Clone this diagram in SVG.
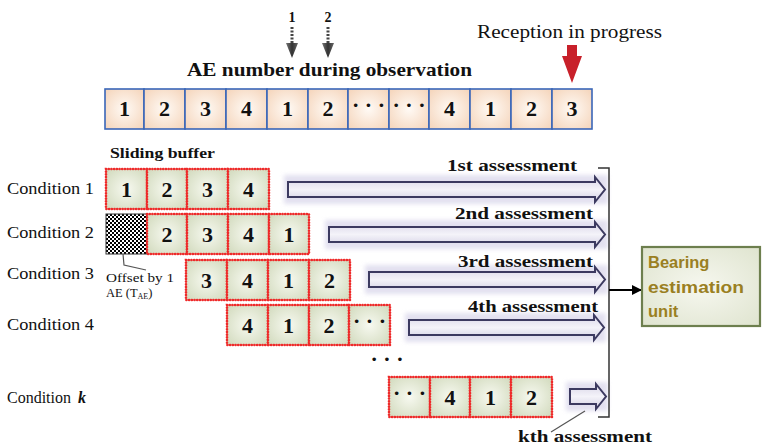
<svg xmlns="http://www.w3.org/2000/svg" width="762" height="446" viewBox="0 0 762 446">
<defs>
<radialGradient id="gPeach" cx="50%" cy="50%" r="65%"><stop offset="0" stop-color="#fffaf5"/><stop offset="1" stop-color="#f5d6bd"/></radialGradient>
<radialGradient id="gGreen" cx="50%" cy="50%" r="65%"><stop offset="0" stop-color="#f7f9f0"/><stop offset="1" stop-color="#d3dbbf"/></radialGradient>
<radialGradient id="gBox" cx="50%" cy="50%" r="70%"><stop offset="0" stop-color="#f6f7ef"/><stop offset="1" stop-color="#dfe4cf"/></radialGradient>
<linearGradient id="gArr" x1="0" y1="0" x2="0" y2="1"><stop offset="0" stop-color="#d9d6e8"/><stop offset="0.5" stop-color="#f4f3f9"/><stop offset="1" stop-color="#d3d0e4"/></linearGradient>
<linearGradient id="gGray" x1="0" y1="0" x2="1" y2="0"><stop offset="0" stop-color="#777"/><stop offset="0.5" stop-color="#333"/><stop offset="1" stop-color="#666"/></linearGradient>
<pattern id="checker" width="4" height="4" patternUnits="userSpaceOnUse"><rect width="4" height="4" fill="#fff"/><rect width="2" height="2" fill="#000"/><rect x="2" y="2" width="2" height="2" fill="#000"/></pattern>
<marker id="mArr" markerWidth="10" markerHeight="10" refX="9" refY="5" orient="auto" markerUnits="userSpaceOnUse"><path d="M0,0 L10,5 L0,10 Z" fill="#000"/></marker>
<filter id="blur" x="-10%" y="-50%" width="120%" height="200%"><feGaussianBlur stdDeviation="2"/></filter>
</defs>
<style>
.ser{font-family:'Liberation Serif','DejaVu Serif','Times New Roman',serif;fill:#111}
.b{font-weight:bold}
.num{font-family:'Liberation Serif','DejaVu Serif','Times New Roman',serif;font-weight:bold;font-size:22px;fill:#111;text-anchor:middle}
.top{fill:url(#gPeach);stroke:#3a66b8;stroke-width:1.6}
.buf{fill:url(#gGreen);stroke:#ee2a2a;stroke-width:2.6;stroke-dasharray:0.1 2.6;stroke-linecap:round}
.ass{fill:url(#gArr);stroke:#3c3a60;stroke-width:2}
.halo{fill:#dcd9ec;opacity:0.8;filter:url(#blur)}
.lab{font-family:'Liberation Serif','DejaVu Serif','Times New Roman',serif;font-size:16px;fill:#111}
.asl{font-family:'Liberation Serif','DejaVu Serif','Times New Roman',serif;font-size:17px;font-weight:bold;fill:#111}
.ln{fill:none;stroke:#555;stroke-width:1.2}
</style>

<g id="top-labels">
<text class="ser b" x="292" y="22" font-size="14" text-anchor="middle">1</text>
<text class="ser b" x="328" y="22" font-size="14" text-anchor="middle">2</text>
<text class="ser b" x="187" y="76" font-size="19" textLength="285" lengthAdjust="spacingAndGlyphs">AE number during observation</text>
<text class="ser" x="477" y="38" font-size="18" textLength="185" lengthAdjust="spacingAndGlyphs">Reception in progress</text>
</g>

<g id="pointer-arrows">
<line x1="292" y1="27" x2="292" y2="43" stroke="#444" stroke-width="3" stroke-dasharray="2 1.5"/>
<path d="M286,43 H298 L292,58 Z" fill="url(#gGray)"/>
<line x1="328" y1="27" x2="328" y2="43" stroke="#444" stroke-width="3" stroke-dasharray="2 1.5"/>
<path d="M322,43 H334 L328,58 Z" fill="url(#gGray)"/>
<path d="M567,45 H577 V56 H582 L572,83 L562,56 H567 Z" fill="#c8202a"/>
</g>

<g id="ae-sequence">
<rect class="top" x="105" y="89" width="39" height="40"/>
<rect class="top" x="144" y="89" width="41" height="40"/>
<rect class="top" x="185" y="89" width="41" height="40"/>
<rect class="top" x="226" y="89" width="41" height="40"/>
<rect class="top" x="267" y="89" width="41" height="40"/>
<rect class="top" x="308" y="89" width="40" height="40"/>
<rect class="top" x="348" y="89" width="41" height="40"/>
<rect class="top" x="389" y="89" width="40" height="40"/>
<rect class="top" x="429" y="89" width="41" height="40"/>
<rect class="top" x="470" y="89" width="41" height="40"/>
<rect class="top" x="511" y="89" width="41" height="40"/>
<rect class="top" x="552" y="89" width="40" height="40"/>
<text class="num" x="124.5" y="116">1</text>
<text class="num" x="164.5" y="116">2</text>
<text class="num" x="205.5" y="116">3</text>
<text class="num" x="246.5" y="116">4</text>
<text class="num" x="287.5" y="116">1</text>
<text class="num" x="328" y="116">2</text>
<text class="num" x="368.5" y="112">· · ·</text>
<text class="num" x="409" y="112">· · ·</text>
<text class="num" x="449.5" y="116">4</text>
<text class="num" x="490.5" y="116">1</text>
<text class="num" x="531.5" y="116">2</text>
<text class="num" x="572" y="116">3</text>
</g>

<g id="sliding-buffer-label">
<text class="ser b" x="110" y="158" font-size="15" textLength="105" lengthAdjust="spacingAndGlyphs">Sliding buffer</text>
</g>

<g id="condition-1">
<text class="lab" x="7" y="194" textLength="87" lengthAdjust="spacingAndGlyphs">Condition 1</text>
<rect class="buf" x="106" y="169" width="41" height="40"/>
<rect class="buf" x="147" y="169" width="40" height="40"/>
<rect class="buf" x="187" y="169" width="41" height="40"/>
<rect class="buf" x="228" y="169" width="41" height="40"/>
<text class="num" x="126.5" y="197">1</text>
<text class="num" x="167" y="197">2</text>
<text class="num" x="207.5" y="197">3</text>
<text class="num" x="248.5" y="197">4</text>
</g>

<g id="condition-2">
<text class="lab" x="7" y="238" textLength="87" lengthAdjust="spacingAndGlyphs">Condition 2</text>
<rect x="106" y="214" width="41" height="40" fill="url(#checker)" stroke="#333" stroke-width="1"/>
<rect class="buf" x="147" y="214" width="40" height="40"/>
<rect class="buf" x="187" y="214" width="41" height="40"/>
<rect class="buf" x="228" y="214" width="41" height="40"/>
<rect class="buf" x="269" y="214" width="40" height="40"/>
<text class="num" x="167" y="242">2</text>
<text class="num" x="207.5" y="242">3</text>
<text class="num" x="248.5" y="242">4</text>
<text class="num" x="289" y="242">1</text>
</g>

<g id="offset-note">
<path class="ln" d="M123,254 L124,265 L146,270"/>
<text class="ser" x="106" y="282" font-size="12.5" textLength="68" lengthAdjust="spacingAndGlyphs">Offset by 1</text>
<text class="ser" x="106" y="297" font-size="12.5">AE (T<tspan font-size="8" dy="2">AE</tspan><tspan dy="-2">)</tspan></text>
</g>

<g id="condition-3">
<text class="lab" x="7" y="279" textLength="87" lengthAdjust="spacingAndGlyphs">Condition 3</text>
<rect class="buf" x="186" y="260" width="41" height="40"/>
<rect class="buf" x="227" y="260" width="41" height="40"/>
<rect class="buf" x="268" y="260" width="41" height="40"/>
<rect class="buf" x="309" y="260" width="41" height="40"/>
<text class="num" x="206.5" y="288">3</text>
<text class="num" x="247.5" y="288">4</text>
<text class="num" x="288.5" y="288">1</text>
<text class="num" x="329.5" y="288">2</text>
</g>

<g id="condition-4">
<text class="lab" x="7" y="330" textLength="87" lengthAdjust="spacingAndGlyphs">Condition 4</text>
<rect class="buf" x="227" y="305" width="41" height="40"/>
<rect class="buf" x="268" y="305" width="41" height="40"/>
<rect class="buf" x="309" y="305" width="40" height="40"/>
<rect class="buf" x="349" y="305" width="41" height="40"/>
<text class="num" x="247.5" y="333">4</text>
<text class="num" x="288.5" y="333">1</text>
<text class="num" x="329" y="333">2</text>
<text class="num" x="369.5" y="328">· · ·</text>
</g>

<g id="vertical-dots">
<text class="num" x="387" y="366">· · ·</text>
</g>

<g id="condition-k">
<text class="lab" x="7" y="403">Condition <tspan font-style="italic" font-weight="bold" dx="3">k</tspan></text>
<rect class="buf" x="389" y="377" width="41" height="40"/>
<rect class="buf" x="430" y="377" width="40" height="40"/>
<rect class="buf" x="470" y="377" width="41" height="40"/>
<rect class="buf" x="511" y="377" width="41" height="40"/>
<text class="num" x="409.5" y="400">· · ·</text>
<text class="num" x="450" y="405">4</text>
<text class="num" x="490.5" y="405">1</text>
<text class="num" x="531.5" y="405">2</text>
</g>

<g id="assessment-1">
<rect class="halo" x="284" y="175" width="324" height="29"/>
<path class="ass" d="M288,182 H595 V177 L605,189.5 L595,202 V197 H288 Z"/>
<text class="asl" x="447" y="171" textLength="130" lengthAdjust="spacingAndGlyphs">1st assessment</text>
</g>
<g id="assessment-2">
<rect class="halo" x="325" y="220" width="283" height="29"/>
<path class="ass" d="M329,227 H595 V222 L605,234.5 L595,247 V242 H329 Z"/>
<text class="asl" x="455" y="219" textLength="138" lengthAdjust="spacingAndGlyphs">2nd assessment</text>
</g>
<g id="assessment-3">
<rect class="halo" x="365" y="265" width="243" height="29"/>
<path class="ass" d="M369,272 H595 V267 L605,279.5 L595,292 V287 H369 Z"/>
<text class="asl" x="458" y="267" textLength="135" lengthAdjust="spacingAndGlyphs">3rd assessment</text>
</g>
<g id="assessment-4">
<rect class="halo" x="405" y="313" width="201" height="29"/>
<path class="ass" d="M409,320 H594 V315 L604,327.5 L594,340 V335 H409 Z"/>
<text class="asl" x="468" y="312" textLength="130" lengthAdjust="spacingAndGlyphs">4th assessment</text>
</g>
<g id="assessment-k">
<rect class="halo" x="566" y="382" width="42" height="29"/>
<path class="ass" d="M570,389 H596 V384 L606,396.5 L596,409 V404 H570 Z"/>
<path class="ln" d="M551,432 L585,411"/>
<text class="asl" x="518" y="442" textLength="134" lengthAdjust="spacingAndGlyphs">kth assessment</text>
</g>

<g id="connectors">
<path d="M598,168 H609 V417 H598" fill="none" stroke="#333" stroke-width="1.5"/>
<line x1="609" y1="290" x2="641" y2="290" stroke="#000" stroke-width="2" marker-end="url(#mArr)"/>
</g>

<g id="bearing-estimation-unit">
<rect x="642" y="247" width="118" height="79" fill="url(#gBox)" stroke="#6d7f4e" stroke-width="2.2"/>
<text x="648" y="268" font-family="Liberation Sans, Arial, sans-serif" font-weight="bold" font-size="16.5" fill="#9a7f22">Bearing</text>
<text x="648" y="293" font-family="Liberation Sans, Arial, sans-serif" font-weight="bold" font-size="16.5" fill="#9a7f22" textLength="96" lengthAdjust="spacingAndGlyphs">estimation</text>
<text x="648" y="317" font-family="Liberation Sans, Arial, sans-serif" font-weight="bold" font-size="16.5" fill="#9a7f22">unit</text>
</g>
</svg>
